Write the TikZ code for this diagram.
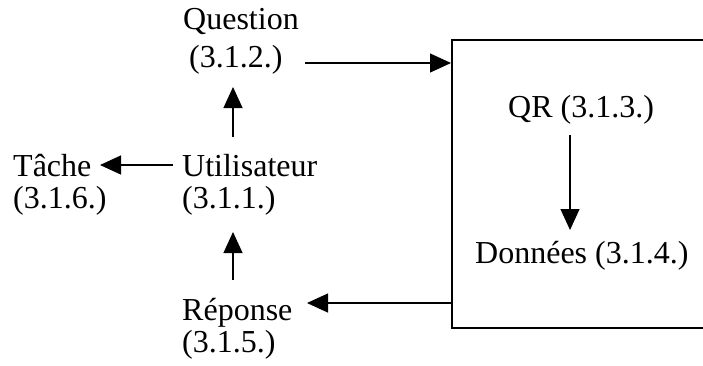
\documentclass[tikz,border=0pt]{standalone}
\usepackage{fontspec}
\setmainfont{Liberation Serif}
\usetikzlibrary{arrows.meta}
\begin{document}
\begin{tikzpicture}[x=1pt,y=-1pt,
  lbl/.style={anchor=base west,inner sep=0pt,font=\fontsize{32}{38}\selectfont},
  arr/.style={line width=1.2pt,-{Triangle[length=21pt,width=19pt]}},
  frame/.style={draw,line width=1.8pt,minimum width=252pt,minimum height=288pt,anchor=north west,inner sep=0pt}]
  \useasboundingbox (0,0) rectangle (703,365);

  % database block
  \node[frame] (db) at (451,39) {};
  \node[lbl] (qr) at (508,117) {QR (3.1.3.)};
  \node[lbl] (data) at (475,263) {Données (3.1.4.)};

  % left-hand labels
  \node[lbl] (quest) at (183,29) {Question};
  \node[lbl] (questn) at (189,67) {(3.1.2.)};
  \node[lbl] (task) at (13,176) {Tâche};
  \node[lbl] (taskn) at (13,208) {(3.1.6.)};
  \node[lbl] (user) at (182,176) {Utilisateur};
  \node[lbl] (usern) at (182,208) {(3.1.1.)};
  \node[lbl] (answer) at (182,320) {Réponse};
  \node[lbl] (answern) at (182,352) {(3.1.5.)};

  % connector end points
  \coordinate (qOut) at (305,63);
  \coordinate (uTop) at (233,137);
  \coordinate (qIn) at (233,87);
  \coordinate (uLeft) at (173,165);
  \coordinate (tIn) at (100,165);
  \coordinate (rTop) at (233,280);
  \coordinate (uIn) at (233,232);
  \coordinate (rIn) at (307,303);
  \coordinate (qrOut) at (570,135);
  \coordinate (dIn) at (570,230);

  \draw[arr] (qOut) -- (db.west |- qOut);
  \draw[arr] (uTop) -- (qIn);
  \draw[arr] (uLeft) -- (tIn);
  \draw[arr] (rTop) -- (uIn);
  \draw[arr] (db.west |- rIn) -- (rIn);
  \draw[arr] (qrOut) -- (dIn);
\end{tikzpicture}
\end{document}
